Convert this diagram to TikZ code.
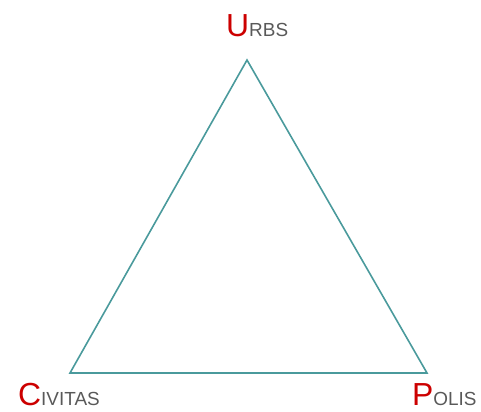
\documentclass[tikz,border=0pt]{standalone}
\usepackage{fontspec}
\setmainfont{Liberation Sans}
\usepackage{tikz}
\usepackage{xcolor}
\definecolor{Label_Red}{HTML}{CC0000}
\definecolor{Label_Gray}{HTML}{595959}
\definecolor{Edge_Teal}{HTML}{4A9A9C}
\newcommand{\vertexlabel}[2]{{\fontsize{32}{32}\selectfont\color{Label_Red}#1}{\fontsize{19}{19}\selectfont\color{Label_Gray}#2}}

\begin{document}
\begin{tikzpicture}[x=1bp, y=-1bp]
    \useasboundingbox (0,0) rectangle (481,411);
    % Corners
    \coordinate (u) at (247,60);
    \coordinate (c) at (70,373);
    \coordinate (p) at (427,373);

    % Triangle
    \draw[Edge_Teal, line width=1.6bp, line join=miter] (u) -- (c) -- (p) -- cycle;

    % Labels
    \node[anchor=base west, inner sep=0pt] (urbs) at (226,36) {\vertexlabel{U}{RBS}};
    \node[anchor=base west, inner sep=0pt] (civitas) at (18,405) {\vertexlabel{C}{IVITAS}};
    \node[anchor=base west, inner sep=0pt] (polis) at (412,405) {\vertexlabel{P}{OLIS}};
\end{tikzpicture}
\end{document}
